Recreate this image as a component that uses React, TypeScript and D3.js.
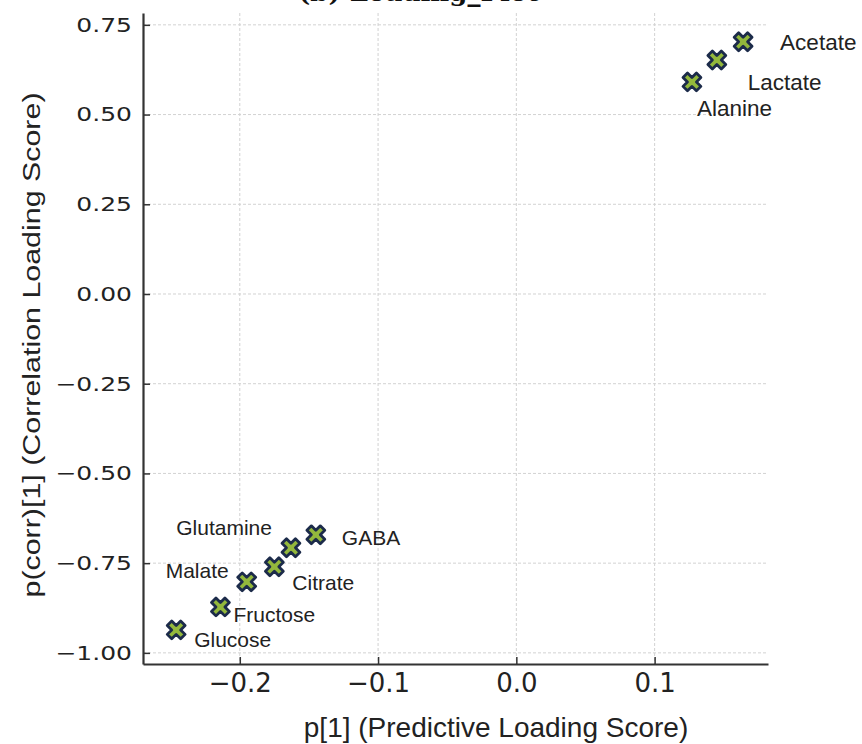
import { useEffect, useRef } from 'react';
import * as d3 from 'd3';

// metabolite loadings
const metabolites = ['Acetate', 'Lactate', 'Alanine', 'GABA', 'Glutamine', 'Citrate', 'Malate', 'Fructose', 'Glucose'];
const predictiveLoading = [0.164, 0.145, 0.127, -0.145, -0.163, -0.175, -0.195, -0.214, -0.246];
const correlationLoading = [0.703, 0.652, 0.591, -0.671, -0.707, -0.76, -0.802, -0.872, -0.936];

const xTicks = [-0.2, -0.1, 0.0, 0.1];
const yTicks = [0.75, 0.5, 0.25, 0.0, -0.25, -0.5, -0.75, -1.0];

// label placement next to each marker (px): dx, dy, anchor, font size
const labelOffsets: [number, number, string, number][] = [
  [37, 0, 'start', 22.5],
  [31, 22, 'start', 22.5],
  [5, 26, 'start', 22.5],
  [26, 3, 'start', 21],
  [-19, -20, 'end', 21],
  [18, 16, 'start', 21],
  [-18, -11, 'end', 21],
  [13, 8, 'start', 21],
  [18, 10, 'start', 21],
];

const W = 862;
const H = 744;

export default function App() {
  const svgRef = useRef<SVGSVGElement>(null);

  useEffect(() => {
    if (!svgRef.current) return;
    const svg = d3.select(svgRef.current);
    svg.selectAll('*').remove();

    const left = 143;
    const right = 768;
    const top = 13;
    const bottom = 664;

    const x = d3.scaleLinear().domain([-0.27, 0.182]).range([left, right]);
    const y = d3.scaleLinear().domain([-1.031, 0.783]).range([bottom, top]);

    const sans = '"Liberation Sans", Arial, sans-serif';
    const dejavu = '"DejaVu Sans", sans-serif';

    svg
      .append('rect')
      .attr('width', W)
      .attr('height', H)
      .attr('fill', '#fff');

    // title, mostly cut off at the top edge
    svg
      .append('text')
      .attr('x', 298)
      .attr('y', 1)
      .style('font-family', '"DejaVu Serif", serif')
      .style('font-weight', 'bold')
      .style('font-size', '26px')
      .attr('fill', '#111')
      .text('(b) Loading_Plot');

    // grid
    const grid = svg.append('g').attr('stroke', '#d2d2d2').attr('stroke-width', 1).attr('stroke-dasharray', '3,2');
    grid
      .selectAll('.gy')
      .data(yTicks)
      .enter()
      .append('line')
      .attr('x1', left)
      .attr('x2', right)
      .attr('y1', (d) => y(d))
      .attr('y2', (d) => y(d));
    grid
      .selectAll('.gx')
      .data(xTicks)
      .enter()
      .append('line')
      .attr('x1', (d) => x(d))
      .attr('x2', (d) => x(d))
      .attr('y1', top)
      .attr('y2', bottom);

    // axes (ticks pointing inward)
    const yAxis = svg
      .append('g')
      .attr('transform', `translate(${left},0)`)
      .call(
        d3
          .axisLeft<number>(y)
          .tickValues(yTicks)
          .tickSizeInner(-7)
          .tickSizeOuter(0)
          .tickPadding(9)
          .tickFormat((d) => d3.format('.2f')(d).replace('-', '\u2212')),
      );
    yAxis.select('.domain').attr('stroke', '#333').attr('stroke-width', 2.2);
    yAxis.selectAll('.tick line').attr('stroke', '#333').attr('stroke-width', 1.5);
    // tick labels in the reference are drawn a little wide
    yAxis
      .selectAll('.tick text')
      .attr('x', 0)
      .attr('transform', 'translate(-11,0) scale(1.25,1)')
      .style('font-family', dejavu)
      .style('font-size', '20px')
      .attr('fill', '#222');

    const xAxis = svg
      .append('g')
      .attr('transform', `translate(0,${bottom})`)
      .call(
        d3
          .axisBottom<number>(x)
          .tickValues(xTicks)
          .tickSizeInner(-7)
          .tickSizeOuter(0)
          .tickPadding(10)
          .tickFormat((d) => d3.format('.1f')(d).replace('-', '\u2212')),
      );
    xAxis.select('.domain').attr('stroke', '#333').attr('stroke-width', 2.2);
    xAxis.selectAll('.tick line').attr('stroke', '#333').attr('stroke-width', 1.5);
    xAxis
      .selectAll('.tick text')
      .style('font-family', dejavu)
      .style('font-size', '26px')
      .attr('fill', '#222');

    // axis titles
    svg
      .append('text')
      .attr('x', 496)
      .attr('y', 737)
      .attr('text-anchor', 'middle')
      .style('font-family', sans)
      .style('font-size', '28px')
      .attr('fill', '#222')
      .text('p[1] (Predictive Loading Score)');

    svg
      .append('text')
      .attr('transform', `translate(40,345) rotate(-90)`)
      .attr('text-anchor', 'middle')
      .attr('textLength', 505)
      .attr('lengthAdjust', 'spacingAndGlyphs')
      .style('font-family', sans)
      .style('font-size', '23px')
      .attr('fill', '#222')
      .text('p(corr)[1] (Correlation Loading Score)');

    const points = metabolites.map((name, i) => ({
      name,
      px: predictiveLoading[i],
      py: correlationLoading[i],
      off: labelOffsets[i],
    }));

    // X markers
    const marker = d3.symbol().type(d3.symbolCross).size(200);
    svg
      .append('g')
      .selectAll('path')
      .data(points)
      .enter()
      .append('path')
      .attr('d', marker)
      .attr('transform', (d) => `translate(${x(d.px)},${y(d.py)}) rotate(45)`)
      .attr('fill', '#93b83c')
      .attr('stroke', '#1c2b4a')
      .attr('stroke-width', 2.8)
      .attr('stroke-linejoin', 'round');

    svg
      .append('g')
      .selectAll('text')
      .data(points)
      .enter()
      .append('text')
      .attr('x', (d) => x(d.px) + d.off[0])
      .attr('y', (d) => y(d.py) + d.off[1])
      .attr('dy', '0.35em')
      .attr('text-anchor', (d) => d.off[2])
      .style('font-family', sans)
      .style('font-size', (d) => `${d.off[3]}px`)
      .attr('fill', '#222')
      .text((d) => d.name);
  }, []);

  return (
    <svg
      ref={svgRef}
      width={W}
      height={H}
      style={{ position: 'absolute', left: 0, top: 0, display: 'block' }}
    />
  );
}
